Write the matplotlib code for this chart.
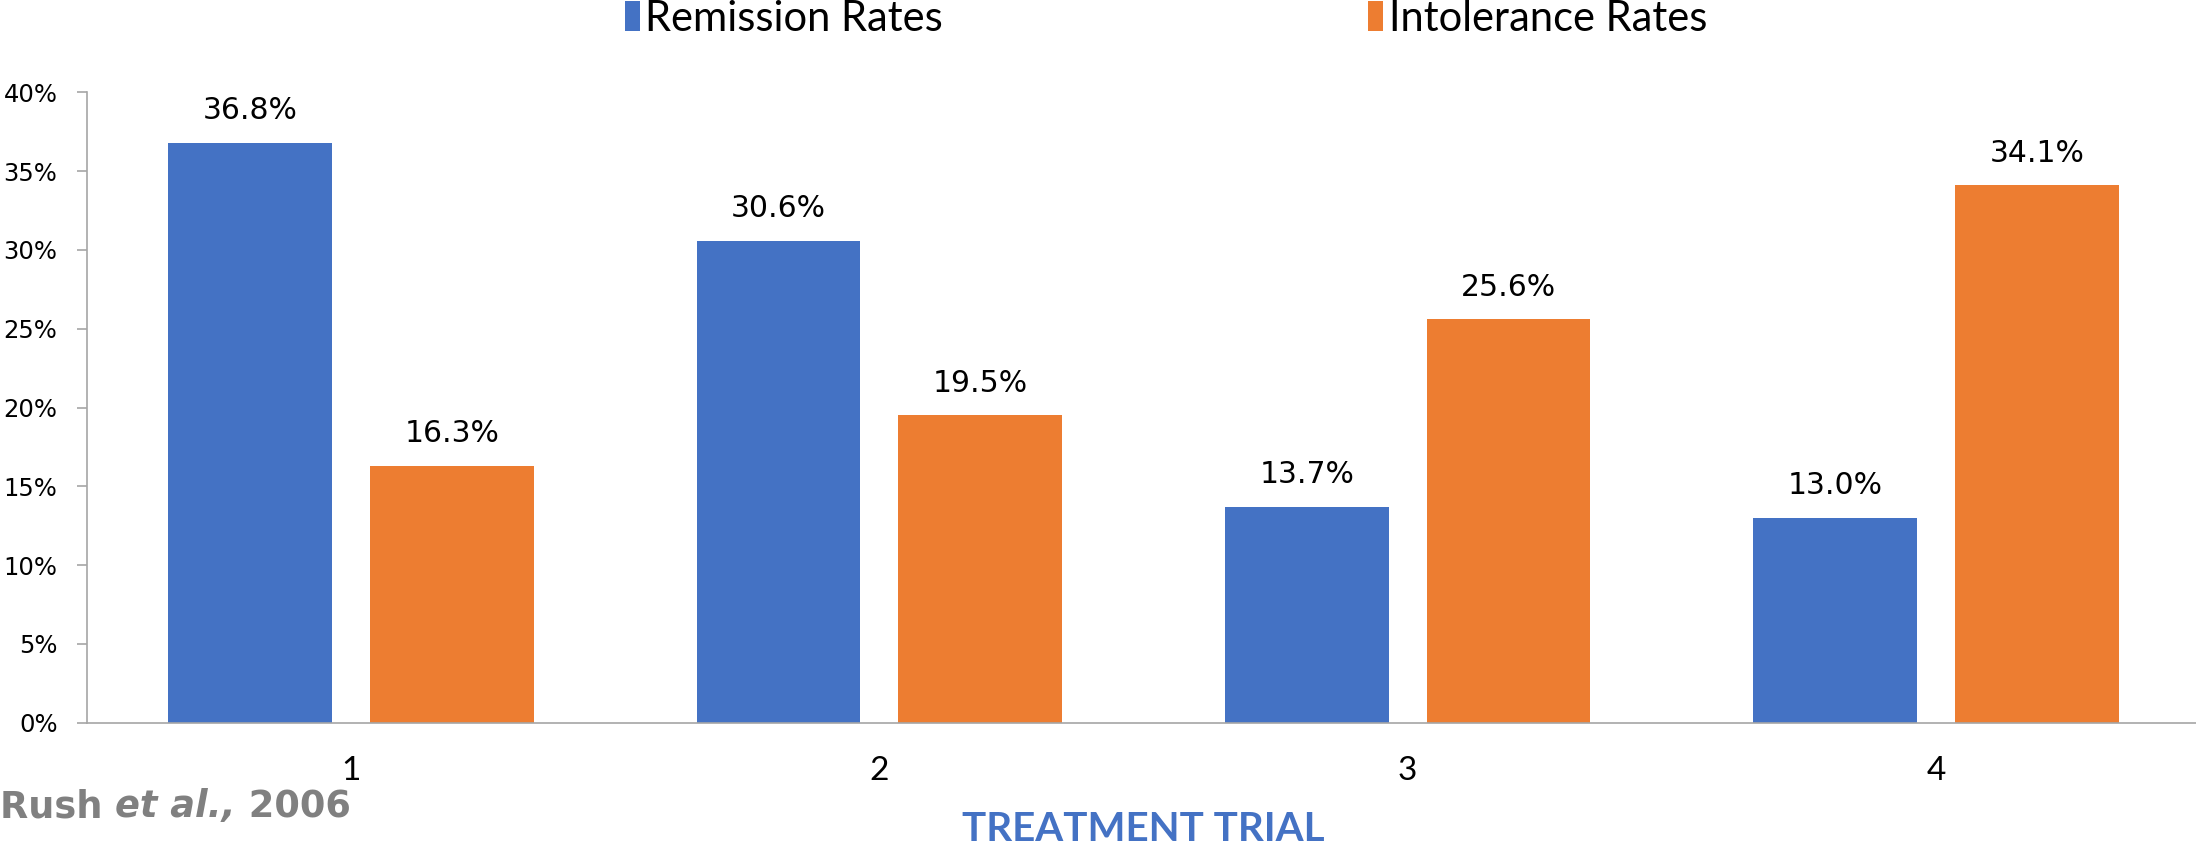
import matplotlib
matplotlib.use('Agg')
import matplotlib.pyplot as plt
from matplotlib.ticker import FuncFormatter
import numpy as np

# treatment trial results
trials = ['1', '2', '3', '4']
remission = [36.8, 30.6, 13.7, 13.0]
intolerance = [16.3, 19.5, 25.6, 34.1]
series_names = ['Remission Rates', 'Intolerance Rates']
y_ticks = [0, 5, 10, 15, 20, 25, 30, 35, 40]

BLUE = '#4472C4'
ORANGE = '#ED7D31'
AXIS = '#A6A6A6'
SANS = ['Lato', 'DejaVu Sans']

fig = plt.figure(figsize=(21.96, 8.46), dpi=100)
fig.patch.set_facecolor('white')
ax = fig.add_axes([87 / 2196, 123.3 / 846, 2113 / 2196, 630.3 / 846])

x = np.arange(len(trials))
bar_w = 0.31
offset = 0.191
b1 = ax.bar(x - offset, remission, bar_w, color=BLUE, label=series_names[0], zorder=2)
b2 = ax.bar(x + offset, intolerance, bar_w, color=ORANGE, label=series_names[1], zorder=2)

# value labels above each bar
for bars, vals in ((b1, remission), (b2, intolerance)):
    for bar, v in zip(bars, vals):
        ax.annotate(f'{v:.1f}%', (bar.get_x() + bar.get_width() / 2, v),
                    xytext=(0, 17), textcoords='offset points',
                    ha='center', va='baseline', fontsize=21.5,
                    family='DejaVu Sans', color='black')

ax.set_xlim(-0.5, len(trials) - 0.5)
ax.set_ylim(0, 40)
ax.set_yticks(y_ticks)
ax.yaxis.set_major_formatter(FuncFormatter(lambda v, _: f'{v:.0f}%'))
ax.set_xticks(x)
ax.set_xticklabels(trials, family=SANS, fontsize=24)

ax.tick_params(axis='y', length=7.2, width=1.2, color=AXIS, pad=14, labelsize=17.5)
ax.tick_params(axis='x', length=0, pad=24)
for lab in ax.get_yticklabels():
    lab.set_family('DejaVu Sans')

ax.spines[['top', 'right']].set_visible(False)
ax.spines['left'].set_color(AXIS)
ax.spines['bottom'].set_color(AXIS)
ax.spines['left'].set_linewidth(1.2)
ax.spines['bottom'].set_linewidth(1.2)

# legend across the top
fig.legend(handles=[b1, b2], loc='center', bbox_to_anchor=(1166 / 2196, 0.978),
           ncol=2, frameon=False, prop={'family': SANS, 'size': 30},
           handlelength=0.36, handleheight=0.7, handletextpad=0.14,
           columnspacing=10.2, borderpad=0, borderaxespad=0)

# axis title
fig.text(1143 / 2196, 5 / 846, 'TREATMENT TRIAL', ha='center', va='baseline',
         fontsize=29, fontweight='bold', family=SANS, color=BLUE)

# citation, built from pieces so "et al.," can be italic
renderer = fig.canvas.get_renderer()
cx = 0.0
cy = 1 - 817 / 846
for piece, style in (('Rush ', 'normal'), ('et al.,', 'italic'), (' 2006', 'normal')):
    t = fig.text(cx, cy, piece, ha='left', va='baseline', fontsize=26.5,
                 fontweight='bold', style=style, family='DejaVu Sans', color='#808080')
    bb = t.get_window_extent(renderer=renderer)
    cx += bb.width / fig.bbox.width

fig.savefig('out.png', dpi=100, facecolor='white')
